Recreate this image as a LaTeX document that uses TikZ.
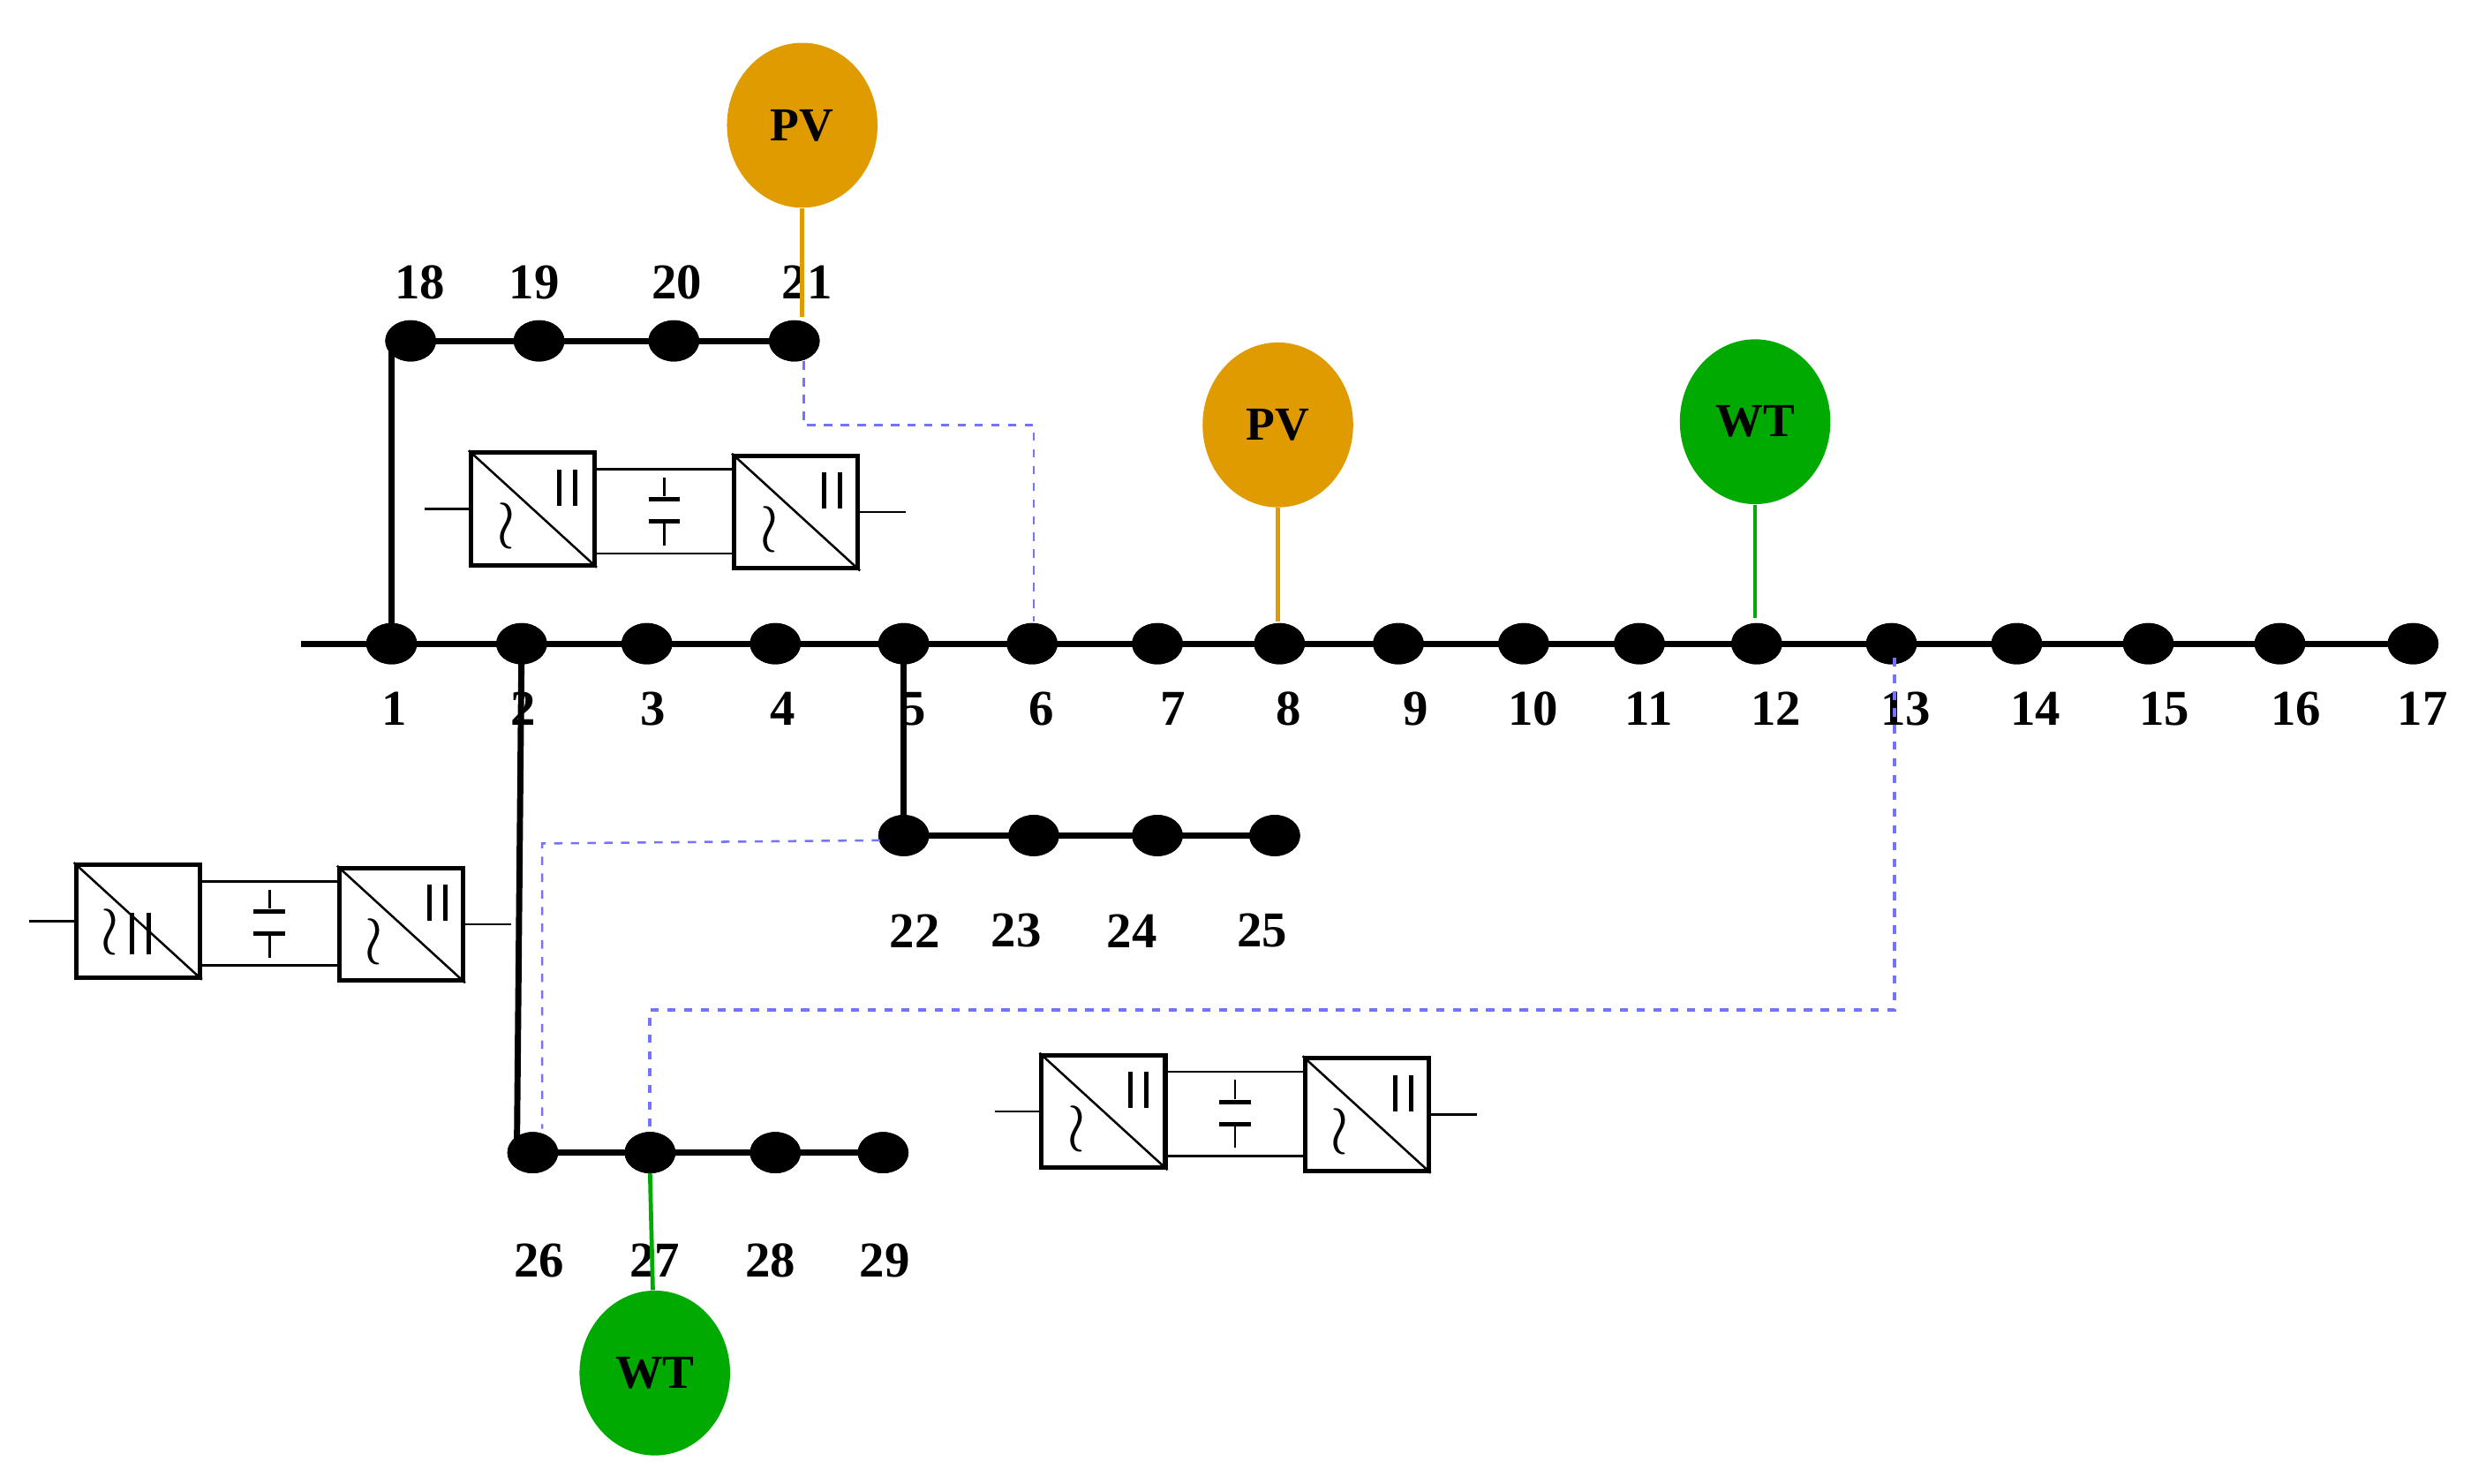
\documentclass[tikz,border=0pt]{standalone}
\usepackage{fontspec}
\setmainfont{Liberation Serif}
\begin{document}
\begin{tikzpicture}[x=0.02cm,y=-0.02cm,
 bus/.style={ellipse,fill=black,minimum width=0.64cm,minimum height=0.52cm,inner sep=0},
 lbl/.style={font=\fontsize{18}{18}\selectfont\bfseries},
 line/.style={line width=2.2pt},
 src/.style={ellipse,minimum width=1.9cm,minimum height=2.08cm,font=\fontsize{17}{17}\selectfont\bfseries},
 dsh/.style={dashed,draw=blue!55,line width=0.8pt},
 cbox/.style={draw,line width=1.6pt,minimum width=1.56cm,minimum height=1.42cm,inner sep=0},
 thin/.style={line width=0.8pt},
 bar/.style={line width=1.6pt},
 wave/.style={font=\fontsize{28}{28}\selectfont}]
\usetikzlibrary{shapes.geometric}
\useasboundingbox (0,0) rectangle (1568,936);
\definecolor{pvc}{HTML}{E09B00}\definecolor{wtc}{HTML}{00AA00}
% main bus
\coordinate (mstart) at (190,406);
\foreach \i/\x/\lx in {1/247/249,2/329/330,3/408/412,4/489/494,5/570/576,6/651/657,7/730/740,8/807/813,9/882/893,10/961/967,11/1034/1040,12/1108/1120,13/1193/1202,14/1272/1284,15/1355/1365,16/1438/1448,17/1522/1528}{
 \node[bus] (b\i) at (\x,406) {};
 \node[lbl] (l\i) at (\lx,447) {\i};}
\draw[line] (mstart) -- (b17.center);
\foreach \i/\x/\lx in {18/259/265,19/340/337,20/425/427,21/501/509}{
 \node[bus] (b\i) at (\x,215) {}; \node[lbl] (l\i) at (\lx,178) {\i};}
\foreach \i/\x/\lx in {22/570/577,23/652/641,24/730/714,25/804/796}{
 \node[bus] (b\i) at (\x,527) {}; \node[lbl] (l\i) at (\lx,587) {\i};}
\foreach \i/\x/\lx in {26/336/340,27/410/413,28/489/486,29/557/558}{
 \node[bus] (b\i) at (\x,727) {}; \node[lbl] (l\i) at (\lx,795) {\i};}
\draw[line] (b1.center) -- (247,215) -- (b21.center);
\draw[line] (b5.center) -- (b22.center) -- (b25.center);
\draw[line] (b2.center) -- (326,727) -- (b29.center);
\foreach \i in {1,...,29}{\node[bus] at (b\i) {};}
% sources
\node[src,fill=pvc] (pv1) at (506,79) {PV};
\node[src,fill=pvc] (pv2) at (806,268) {PV};
\node[src,fill=wtc] (wt1) at (1107,266) {WT};
\node[src,fill=wtc] (wt2) at (413,866) {WT};
\draw[pvc,line width=1.5pt] (pv1) -- (506,200);
\draw[pvc,line width=1.5pt] (pv2) -- (806,392);
\draw[wtc,line width=1.5pt] (wt1) -- (1107,390);
% dashed
\coordinate (d1) at (507,268); \coordinate (d2) at (652,268);
\draw[dsh] (507,228) -- (d1) -- (d2) -- (652,392);
\coordinate (d3) at (342,532);
\draw[dsh] (555,530) -- (d3) -- (342,712);
\coordinate (d4) at (1195,637); \coordinate (d5) at (410,637);
\draw[dsh,line width=1.2pt] (1195,415) -- (d4) -- (d5) -- (b27.center);
\draw[wtc,line width=1.5pt] (wt2) -- (410,740);
\node[bus] at (b27) {};
% converters
\newcommand{\convdraw}[5]{%
 \node[cbox] (#1a) at (#2+39,#3+35) {};
 \node[cbox] (#1b) at (#2+205,#3+37) {};
 \draw[thin] (#1a.north west) -- (#1a.south east);
 \draw[thin] (#1b.north west) -- (#1b.south east);
 \draw[thin] (#1a.north east|-#2,#3+10) -- (#1b.west|-#2,#3+10);
 \draw[thin] (#1a.east|-#2,#3+63) -- (#1b.west|-#2,#3+63);
 \draw[thin] (#2+122,#3+15) -- (#2+122,#3+27);
 \draw[line width=1.6pt] (#2+112,#3+29) -- (#2+132,#3+29) (#2+112,#3+43) -- (#2+132,#3+43);
 \draw[thin] (#2+122,#3+43) -- (#2+122,#3+58);
 \draw[thin] (#1a.west) -- ++(-28,0);
 \draw[thin] (#1b.east) -- ++(29,0);
 \node[wave] at (#2+#4,#3+#5) {$\wr$};
 \node[wave] at (#2+188,#3+48) {$\wr$};
 \draw[bar] (#2+223,#3+12) -- (#2+223,#3+35) (#2+233,#3+12) -- (#2+233,#3+35);
}
\convdraw{c1}{297}{286}{22}{46}
\draw[bar] (297+56,286+10) -- (297+56,286+33) (297+66,286+10) -- (297+66,286+33);
\convdraw{c3}{657}{666}{22}{46}
\draw[bar] (657+56,666+10) -- (657+56,666+33) (657+66,666+10) -- (657+66,666+33);
\convdraw{c2}{48}{546}{21}{42}
\draw[bar] (48+35,546+30) -- (48+35,546+56) (48+46,546+30) -- (48+46,546+56);
\end{tikzpicture}
\end{document}
